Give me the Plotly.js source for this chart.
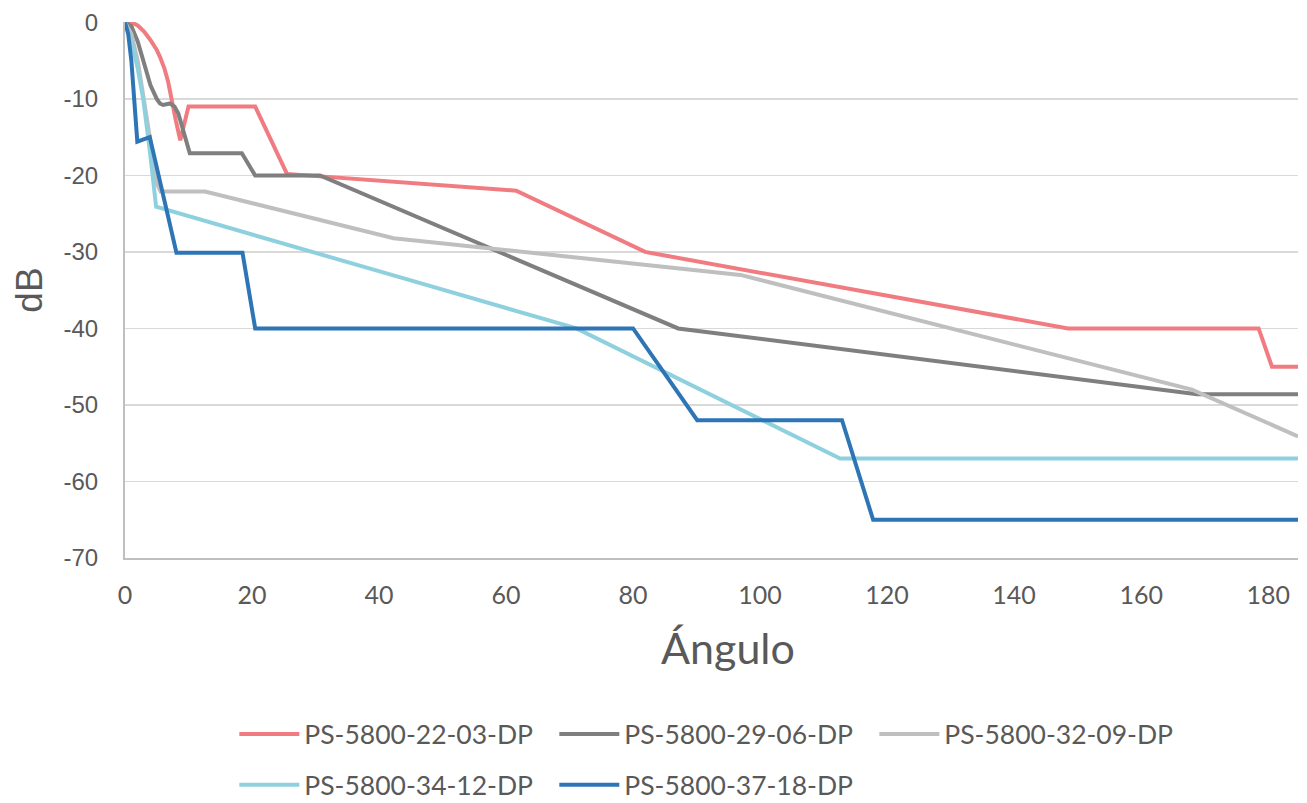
<!DOCTYPE html>
<html>
<head>
<meta charset="utf-8">
<script src="https://cdn.plot.ly/plotly-3.0.1.min.js"></script>
<style>html,body{margin:0;padding:0;background:#fff;}#chart{width:1307px;height:803px;}</style>
</head>
<body>
<div id="chart"></div>
<script>
const seriesNames = ["PS-5800-22-03-DP","PS-5800-29-06-DP","PS-5800-32-09-DP","PS-5800-34-12-DP","PS-5800-37-18-DP"];

const x_22_03 = [0,1,2,3,4,5,5.5,6.2,6.8,7.3,8,8.7,10,20.5,25.5,61.6,81.9,148.5,178.5,180.6,184.7];
const y_22_03 = [0,0,-0.4,-1.2,-2.3,-3.6,-4.5,-6,-7.8,-10,-12.8,-15.4,-11,-11,-19.8,-22,-30,-40,-40,-45,-45];

const x_29_06 = [0,1,2,3,4,5,5.5,6,7.1,7.8,8.4,9.3,10.2,18.4,20.5,30.7,87.1,168.8,184.7];
const y_29_06 = [0,-0.5,-2.5,-5.6,-8.2,-10,-10.6,-10.8,-10.6,-11,-11.9,-14.5,-17.1,-17.1,-20,-20,-40,-48.6,-48.6];

const x_32_09 = [0,1,2,3,4,5,5.6,12.6,42.3,96.9,168,184.7];
const y_32_09 = [0,-1.5,-5,-10,-15.5,-21,-22.1,-22.1,-28.2,-33,-48,-54.1];

const x_34_12 = [0,1,2,2.9,3.9,4.9,42,71.1,112.6,184.7];
const y_34_12 = [0,-2.5,-6,-10.2,-16.7,-24.1,-33,-40,-57,-57];

const x_37_18 = [0,0.5,1,1.5,1.94,3.9,8.1,18.5,20.5,80,90.1,112.9,117.8,184.7];
const y_37_18 = [0,-1.5,-5,-10,-15.6,-15,-30.1,-30.1,-40,-40,-52,-52,-65,-65];

const xTickVals = [0,20,40,60,80,100,120,140,160,180];
const yTickVals = [0,-10,-20,-30,-40,-50,-60,-70];
const yTickText = ["0","-10","-20","-30","-40","-50","-60","-70"];
const xTitle = "Ángulo";
const yTitle = "dB";

const colors = ["#F07C82","#7F7F7F","#BFBFBF","#8FD0DF","#2E75B6"];
const xs = [x_22_03,x_29_06,x_32_09,x_34_12,x_37_18];
const ys = [y_22_03,y_29_06,y_32_09,y_34_12,y_37_18];

const traces = seriesNames.map((n,i)=>({
  type:'scatter', mode:'lines', name:n, x:xs[i], y:ys[i],
  line:{color:colors[i], width:4, shape:'linear'},
  legend: i<3 ? 'legend' : 'legend2',
  hoverinfo:'skip'
}));

const legendCommon = {
  orientation:'h', xanchor:'left', yanchor:'middle', yref:'container',
  font:{family:'Lato, sans-serif', size:26.5, color:'#595959'},
  entrywidth:245, entrywidthmode:'pixels', itemwidth:60,
  bgcolor:'rgba(0,0,0,0)', borderwidth:0
};

const layout = {
  width:1307, height:803,
  margin:{l:125, r:9, t:22, b:245},
  paper_bgcolor:'#ffffff', plot_bgcolor:'#ffffff',
  showlegend:true,
  xaxis:{
    range:[0,184.7], tickvals:xTickVals, showgrid:false, zeroline:false,
    showline:true, linecolor:'#BFBFBF', linewidth:2,
    ticks:'', ticklabelstandoff:14,
    tickfont:{family:'Lato, sans-serif', size:25, color:'#595959'},
    automargin:false
  },
  yaxis:{
    range:[-70,0.05], tickvals:yTickVals, ticktext:yTickText,
    showgrid:true, gridcolor:'#D9D9D9', gridwidth:1.5, zeroline:false,
    showline:true, linecolor:'#BFBFBF', linewidth:2,
    ticks:'', ticklabelstandoff:20,
    tickfont:{family:'Liberation Sans, Arial, sans-serif', size:24, color:'#595959'},
    title:{text:yTitle, font:{family:'Liberation Sans, Arial, sans-serif', size:37, color:'#595959'}, standoff:10},
    automargin:false
  },
  annotations:[{
    text:xTitle, xref:'paper', yref:'paper', x:0.514, y:-0.1679, xanchor:'center', yanchor:'middle',
    showarrow:false, font:{family:'Lato, sans-serif', size:43, color:'#595959'}
  }],
  legend:Object.assign({x:0.0932, y:0.0855}, legendCommon),
  legend2:Object.assign({x:0.0932, y:0.0224}, legendCommon)
};

Plotly.newPlot('chart', traces, layout, {displayModeBar:false, staticPlot:true});
</script>
</body>
</html>
